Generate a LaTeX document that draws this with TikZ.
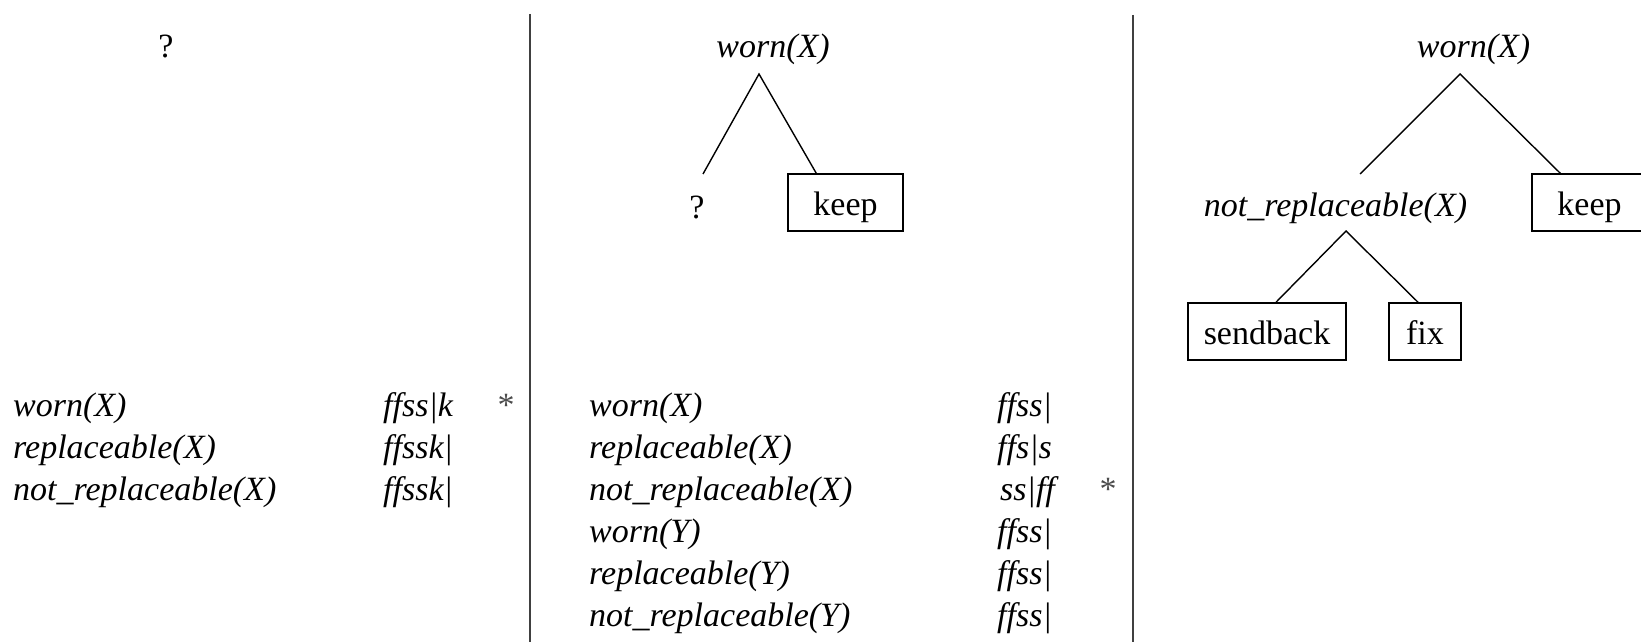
\documentclass[tikz,border=0pt]{standalone}
\usepackage{fontspec}
\setmainfont{Liberation Serif}
\usetikzlibrary{calc}
\begin{document}
\begin{tikzpicture}[x=1pt,y=-1pt,
  every node/.style={inner sep=0pt, font=\fontsize{34}{40}\selectfont},
  lit/.style={anchor=base west, font=\fontsize{34}{40}\selectfont\itshape},
  mark/.append style={},
  starsym/.style={anchor=base, text=black!70},
  qmark/.style={anchor=base},
  pred/.style={anchor=base, font=\fontsize{34}{40}\selectfont\itshape},
  leaf/.style={draw, line width=1.5pt, text height=25pt, text depth=0pt, minimum height=57pt},
  branch/.style={line width=1.4pt},
  sepline/.style={line width=1.8pt, draw=black!75}]
\fill[white] (0,0) rectangle (1641,642);
\useasboundingbox (0,0) rectangle (1641,642);

% separators
\coordinate (s1t) at (530,14);
\coordinate (s1b) at (530,642);
\coordinate (s2t) at (1133,15);
\coordinate (s2b) at (1133,642);
\draw[sepline] (s1t) -- (s1b);
\draw[sepline] (s2t) -- (s2b);

% ---------- left panel ----------
\node[qmark] (q0) at (166,58) {?};
\node[lit] (lw1) at (13,416) {worn(X)};
\node[lit] (lw2) at (13,458) {replaceable(X)};
\node[lit] (lw3) at (13,500) {not\_replaceable(X)};
\node[lit] (lc1) at (383,416) {ffss|k};
\node[lit] (lc2) at (383,458) {ffssk|};
\node[lit] (lc3) at (383,500) {ffssk|};
\node[starsym] (ls) at (506,416) {*};

% ---------- middle panel ----------
\node[pred] (mw) at (773,58) {worn(X)};
\node[qmark] (mq) at (697,218) {?};
\node[leaf, minimum width=115pt] (mkeep) at (845.5,202.5) {keep};
\coordinate (mA) at ($(mw.base)+(-14,16)$);
\coordinate (mQ) at ($(mq.base)+(6,-44)$);
\draw[branch] (mQ) -- (mA) -- ($(mkeep.north west)+(29,0)$);

\node[lit] (mr1) at (589,416) {worn(X)};
\node[lit] (mr2) at (589,458) {replaceable(X)};
\node[lit] (mr3) at (589,500) {not\_replaceable(X)};
\node[lit] (mr4) at (589,542) {worn(Y)};
\node[lit] (mr5) at (589,584) {replaceable(Y)};
\node[lit] (mr6) at (589,626) {not\_replaceable(Y)};
\node[lit] (mc1) at (997,416) {ffss|};
\node[lit] (mc2) at (997,458) {ffs|s};
\node[lit] (mc3) at (1000,500) {ss|ff};
\node[lit] (mc4) at (997,542) {ffss|};
\node[lit] (mc5) at (997,584) {ffss|};
\node[lit] (mc6) at (997,626) {ffss|};
\node[starsym] (ms) at (1108,500) {*};

% ---------- right panel ----------
\node[pred] (rw) at (1473.5,58) {worn(X)};
\node[pred] (rnr) at (1335.5,216) {not\_replaceable(X)};
\node[leaf, minimum width=115pt] (rkeep) at (1589.5,202.5) {keep};
\node[leaf, minimum width=158pt] (sb) at (1267,331.5) {sendback};
\node[leaf, minimum width=72pt] (fix) at (1425,331.5) {fix};
\coordinate (rA) at ($(rw.base)+(-13.5,16)$);
\coordinate (rN) at ($(rnr.base)+(24.5,-42)$);
\coordinate (rB) at ($(rnr.base)+(10.5,15)$);
\draw[branch] (rN) -- (rA) -- ($(rkeep.north west)+(29,0)$);
\draw[branch] ($(sb.north)+(9,0)$) -- (rB) -- ($(fix.north)+(-7,0)$);
\end{tikzpicture}
\end{document}
